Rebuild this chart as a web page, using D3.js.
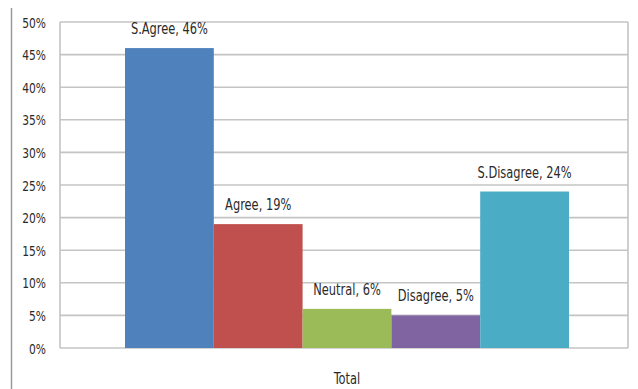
<!DOCTYPE html>
<html><head><meta charset="utf-8">
<script src="https://cdn.jsdelivr.net/npm/d3@7"></script>
<style>
html,body{margin:0;padding:0;background:#fff;}
svg{display:block;}
text{font-family:"DejaVu Sans Condensed","DejaVu Sans",sans-serif;font-stretch:condensed;fill:#2a2a2a;}
</style></head>
<body>
<svg id="c" width="638" height="389"></svg>
<script>
const categories = ["S.Agree", "Agree", "Neutral", "Disagree", "S.Disagree"];
const values = [46, 19, 6, 5, 24];
const colors = ["#4F81BD", "#C0504D", "#9BBB59", "#8064A2", "#4BACC6"];
const yTicks = [0, 5, 10, 15, 20, 25, 30, 35, 40, 45, 50];
const groupLabel = "Total";

const svg = d3.select("#c");
const W = 638, H = 389;
const plot = {left: 60, right: 628, top: 22, bottom: 348};
const SX = 0.82, FS = 15.5;

svg.append("line").attr("x1", 11.5).attr("x2", 11.5).attr("y1", 8).attr("y2", H)
  .attr("stroke", "#9a9a9a").attr("stroke-width", 1.5);

const y = d3.scaleLinear().domain([0, 50]).range([plot.bottom, plot.top]);
const xGroup = d3.scaleBand().domain([groupLabel]).range([plot.left, plot.right]);
const barScale = d3.scaleBand().domain(categories).range([125, 569]).padding(0);

svg.append("g").selectAll("line").data(yTicks).join("line")
  .attr("x1", plot.left).attr("x2", plot.right)
  .attr("y1", d => y(d)).attr("y2", d => y(d))
  .attr("stroke", "#c4c4c4").attr("stroke-width", 1.6);

svg.append("line").attr("x1", plot.left).attr("x2", plot.left).attr("y1", y(50)).attr("y2", y(0))
  .attr("stroke", "#c4c4c4").attr("stroke-width", 1.6);
svg.append("line").attr("x1", plot.right).attr("x2", plot.right).attr("y1", y(50)).attr("y2", y(0))
  .attr("stroke", "#c4c4c4").attr("stroke-width", 1.6);

// y tick labels
svg.append("g").selectAll("text").data(yTicks).join("text")
  .attr("transform", d => `translate(46,${y(d) + 5.5}) scale(${SX},1)`)
  .attr("text-anchor", "end")
  .attr("font-size", FS - 1)
  .text(d => d + "%");

svg.append("g").selectAll("rect").data(values).join("rect")
  .attr("x", (d, i) => barScale(categories[i]))
  .attr("width", barScale.bandwidth())
  .attr("y", d => y(d))
  .attr("height", d => y(0) - y(d))
  .attr("fill", (d, i) => colors[i]);

svg.append("g").selectAll("text").data(values).join("text")
  .attr("transform", (d, i) => `translate(${barScale(categories[i]) + barScale.bandwidth()/2},${y(d) - 14}) scale(${SX},1)`)
  .attr("text-anchor", "middle")
  .attr("font-size", FS)
  .text((d, i) => categories[i] + ", " + d + "%");

svg.append("text")
  .attr("transform", `translate(${xGroup(groupLabel) + xGroup.bandwidth()/2 + 3},384) scale(${SX},1)`)
  .attr("text-anchor", "middle").attr("font-size", FS).text(groupLabel);
</script>
</body></html>
